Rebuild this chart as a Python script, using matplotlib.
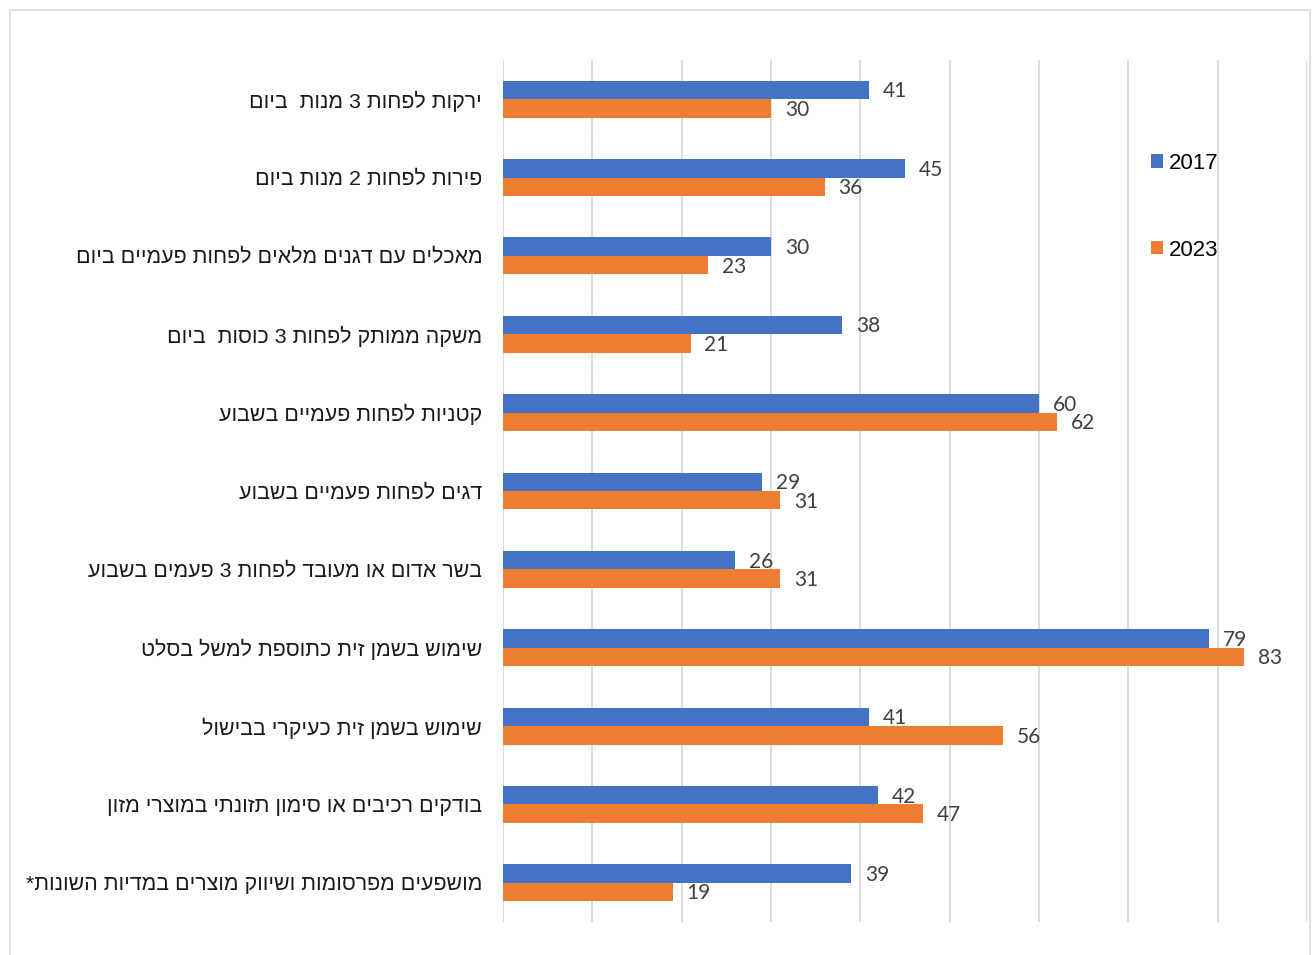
import numpy as np
import matplotlib
matplotlib.use("Agg")
import matplotlib.pyplot as plt
from matplotlib.patches import Rectangle

# categories, top to bottom (logical Hebrew order)
categories = [
    "ירקות לפחות 3 מנות  ביום",
    "פירות לפחות 2 מנות ביום",
    "מאכלים עם דגנים מלאים לפחות פעמיים ביום",
    "משקה ממותק לפחות 3 כוסות  ביום",
    "קטניות לפחות פעמיים בשבוע",
    "דגים לפחות פעמיים בשבוע",
    "בשר אדום או מעובד לפחות 3 פעמים בשבוע",
    "שימוש בשמן זית כתוספת למשל בסלט",
    "שימוש בשמן זית כעיקרי בבישול",
    "בודקים רכיבים או סימון תזונתי במוצרי מזון",
    "מושפעים מפרסומות ושיווק מוצרים במדיות השונות*",
]
vals_2017 = [41, 45, 30, 38, 60, 29, 26, 79, 41, 42, 39]
vals_2023 = [30, 36, 23, 21, 62, 31, 31, 83, 56, 47, 19]
series_names = ["2017", "2023"]

BLUE = "#4472C4"
ORANGE = "#ED7D31"


def rtl(s):
    # matplotlib draws left to right, so flip the Hebrew for display
    return s[::-1]


plt.rcParams['font.family'] = ['Liberation Sans', 'DejaVu Sans']

fig = plt.figure(figsize=(13.14, 9.55), dpi=100)
# light frame around the whole chart
fig.patches.append(Rectangle((10 / 1314, -0.01), 1300 / 1314, 1 - 10 / 955 + 0.01,
                             transform=fig.transFigure, fill=False,
                             edgecolor="#d9d9d9", linewidth=1.2))

ax = fig.add_axes([503 / 1314, 1 - 922 / 955, (1307 - 503) / 1314, 862 / 955])

n = len(categories)
y = np.arange(n)
h = 0.236

ax.barh(y - h / 2, vals_2017, height=h, color=BLUE, label=series_names[0], zorder=3)
ax.barh(y + h / 2, vals_2023, height=h, color=ORANGE, label=series_names[1], zorder=3)

for i in range(n):
    ax.annotate(str(vals_2017[i]), (vals_2017[i], y[i] - h / 2), xytext=(10, -1),
                textcoords="offset points", va="center", ha="left",
                fontsize=15, family=['Lato', 'DejaVu Sans'], color="#404040")
    ax.annotate(str(vals_2023[i]), (vals_2023[i], y[i] + h / 2), xytext=(10, -1),
                textcoords="offset points", va="center", ha="left",
                fontsize=15, family=['Lato', 'DejaVu Sans'], color="#404040")

ax.set_xlim(0, 90)
ax.set_ylim(n - 0.5, -0.5)
ax.set_xticks(np.arange(0, 91, 10))
ax.set_xticklabels([])
ax.tick_params(axis='x', length=0)
ax.grid(axis='x', color="#d9d9d9", linewidth=1.3, zorder=0)

ax.set_yticks(y)
ax.set_yticklabels([rtl(c) for c in categories], fontsize=15.4, color="#1a1a1a")
ax.tick_params(axis='y', length=0, pad=15)

for sp in ax.spines.values():
    sp.set_visible(False)

handles, labels = ax.get_legend_handles_labels()
fig.legend(handles, labels, loc="upper left", bbox_to_anchor=(1131 / 1314, 1 - 133 / 955),
           frameon=False, fontsize=16, handlelength=0.55, handleheight=0.55,
           handletextpad=0.25, labelspacing=2.95)

fig.savefig("out.png", dpi=100)
